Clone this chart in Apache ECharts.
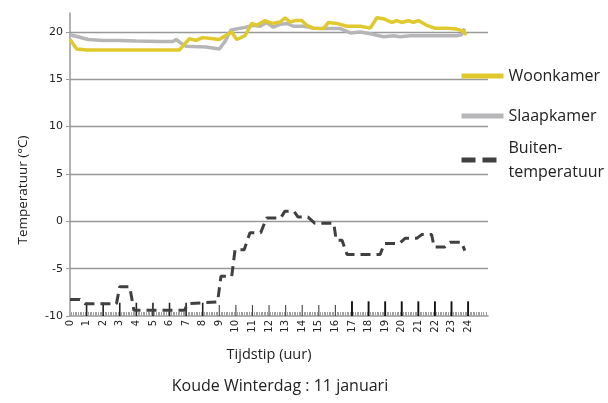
<!DOCTYPE html>
<html>
<head>
<meta charset="utf-8">
<script src="https://cdn.jsdelivr.net/npm/echarts@6/dist/echarts.min.js"></script>
<style>html,body{margin:0;padding:0;background:#fff}#c{width:608px;height:403px}</style>
</head>
<body>
<div id="c"></div>
<script>
// Woonkamer (uur, °C)
const woonTijd = [0,0.4,1,2,3,4,5,6,6.6,7.2,7.6,8.0,8.5,9.0,9.75,10.05,10.55,10.96,11.26,11.76,12.16,12.67,12.97,13.27,13.57,13.97,14.27,14.67,15.28,15.58,16.08,16.68,17.49,18.1,18.5,18.9,19.4,19.7,20.0,20.4,20.7,21.0,21.5,22.0,22.7,23.3,23.7,23.9];
const woonWaarde = [19.2,18.2,18.1,18.1,18.1,18.1,18.1,18.1,18.1,19.3,19.1,19.4,19.3,19.2,20.0,19.2,19.6,20.9,20.7,21.2,20.9,21.05,21.5,21.05,21.2,21.2,20.7,20.4,20.35,21.0,20.9,20.6,20.6,20.4,21.5,21.4,21.0,21.2,21.0,21.2,21.0,21.2,20.7,20.4,20.4,20.3,20.1,19.7];
// Slaapkamer (uur, °C)
const slaapTijd = [0,1.1,2,3,4,5.4,6.2,6.4,6.7,7.0,8.2,9.0,9.35,9.7,10.15,10.6,11.05,11.46,11.86,12.26,12.67,13.07,13.47,14.07,14.67,15.47,16.3,16.9,17.5,18.1,18.9,19.5,19.9,20.5,21.5,22.5,23.3,23.6,23.8];
const slaapWaarde = [19.7,19.2,19.1,19.1,19.05,19.0,19.0,19.2,18.8,18.5,18.4,18.2,19.0,20.2,20.35,20.5,20.7,20.6,21.0,20.5,20.8,20.9,20.6,20.6,20.4,20.35,20.35,19.9,20.0,19.8,19.5,19.6,19.5,19.6,19.6,19.6,19.6,19.7,20.35];
// Buitentemperatuur (uur, °C)
const buitenTijd = [0,0.6,0.9,2.8,3.0,3.6,3.85,6.9,7.1,8.9,9.1,9.75,9.95,10.5,10.85,11.5,11.85,12.7,12.95,13.5,13.75,14.35,14.75,15.9,16.05,16.4,16.7,18.7,18.95,19.85,20.2,20.9,21.2,21.8,21.95,22.6,22.9,23.6,23.8];
const buitenWaarde = [-8.25,-8.25,-8.7,-8.7,-6.9,-6.9,-9.4,-9.4,-8.7,-8.5,-5.8,-5.8,-3.0,-3.0,-1.2,-1.2,0.35,0.35,1.05,1.05,0.45,0.45,-0.2,-0.2,-2.0,-2.0,-3.5,-3.5,-2.35,-2.35,-1.8,-1.8,-1.4,-1.4,-2.7,-2.7,-2.2,-2.2,-3.1];
// uurmarkeringen
const uren = [1,2,3,4,5,6,7,8,9,10,11,12,13,14,15,16,17,18,19,20,21,22,23,24];
const yTicks = [-10,-5,0,5,10,15,20];

const zip = (a,b) => a.map((v,i)=>[v,b[i]]);
const chart = echarts.init(document.getElementById('c'), null, {renderer:'canvas'});
const labelFont = 'DejaVu Sans';
const textFont = 'Open Sans';

chart.setOption({
  animation:false,
  grid:{left:70,right:120,top:13,bottom:87,containLabel:false},
  xAxis:{
    type:'value',min:0,max:25.2,interval:1,
    axisLine:{onZero:false,lineStyle:{color:'#9a9a9a',width:1.5}},
    axisTick:{show:false,inside:true},
    minorTick:{show:true,splitNumber:10,length:4,lineStyle:{color:'#a0a0a0',width:1}},
    splitLine:{show:false},
    axisLabel:{rotate:90,fontFamily:labelFont,fontSize:10,color:'#222',margin:4,
      formatter:v=> (v>24||v%1!==0)?'':String(v)}
  },
  yAxis:{
    type:'value',min:-10,max:22,interval:5,
    axisLine:{show:true,lineStyle:{color:'#9a9a9a',width:1.5}},
    axisTick:{show:true,length:4,lineStyle:{color:'#9a9a9a'}},
    axisLabel:{fontFamily:labelFont,fontSize:11,color:'#222',margin:7,showMaxLabel:false,
      formatter:v=> yTicks.includes(v)?String(v):''},
    splitLine:{show:true,showMinLine:false,showMaxLine:false,lineStyle:{color:'#999',width:1.3}}
  },
  legend:[
    {left:459,top:66,padding:0,orient:'vertical',itemWidth:42,itemHeight:20,itemGap:20,
      data:['Woonkamer','Slaapkamer'],
      itemStyle:{opacity:0},
      lineStyle:{width:5},
      textStyle:{fontFamily:textFont,fontSize:16,color:'#222',lineHeight:20}},
    {left:459,top:136,padding:0,orient:'vertical',itemWidth:42,itemHeight:20,
      data:['Buiten-\ntemperatuur'],
      itemStyle:{opacity:0},
      lineStyle:{width:5,type:[14,7]},
      textStyle:{fontFamily:textFont,fontSize:16,color:'#222',lineHeight:24}}
  ],
  series:[
    {type:'custom',silent:true,z:1,
      data:uren.map(h=>[h]),
      renderItem:(params,api)=>{
        const h=api.value(0);
        let top=-8.6,w=1.6,c='#222';
        if(h>=9&&h<=16){top=-8.85;w=1.1;c='#444';}
        if(h>=17){top=-8.45;w=1.9;c='#111';}
        const p0=api.coord([h,-10]),p1=api.coord([h,top]);
        return {type:'line',shape:{x1:p0[0],y1:p0[1],x2:p1[0],y2:p1[1]},style:{stroke:c,lineWidth:w}};
      }},
    {name:'Slaapkamer',type:'line',data:zip(slaapTijd,slaapWaarde),symbol:'none',z:3,
      lineStyle:{color:'#b6b6b9',width:3.5},itemStyle:{color:'#b6b6b9'}},
    {name:'Woonkamer',type:'line',data:zip(woonTijd,woonWaarde),symbol:'none',z:4,
      lineStyle:{color:'#e0c92c',width:3.5},itemStyle:{color:'#e0c92c'}},
    {name:'Buiten-\ntemperatuur',type:'line',data:zip(buitenTijd,buitenWaarde),symbol:'none',z:5,
      lineStyle:{color:'#404040',width:3,type:[10,6]},itemStyle:{color:'#404040'}}
  ],
  graphic:[
    {type:'text',x:23,y:190,rotation:Math.PI/2,
      style:{text:'Temperatuur (°C)',font:'13.5px "Open Sans"',fill:'#222',align:'center',verticalAlign:'middle'}},
    {type:'text',x:269,y:355,
      style:{text:'Tijdstip (uur)',font:'14.5px "Open Sans"',fill:'#222',align:'center',verticalAlign:'middle'}},
    {type:'text',x:280,y:386,
      style:{text:'Koude Winterdag : 11 januari',font:'16px "Open Sans"',fill:'#222',align:'center',verticalAlign:'middle'}}
  ]
});
</script>
</body>
</html>
